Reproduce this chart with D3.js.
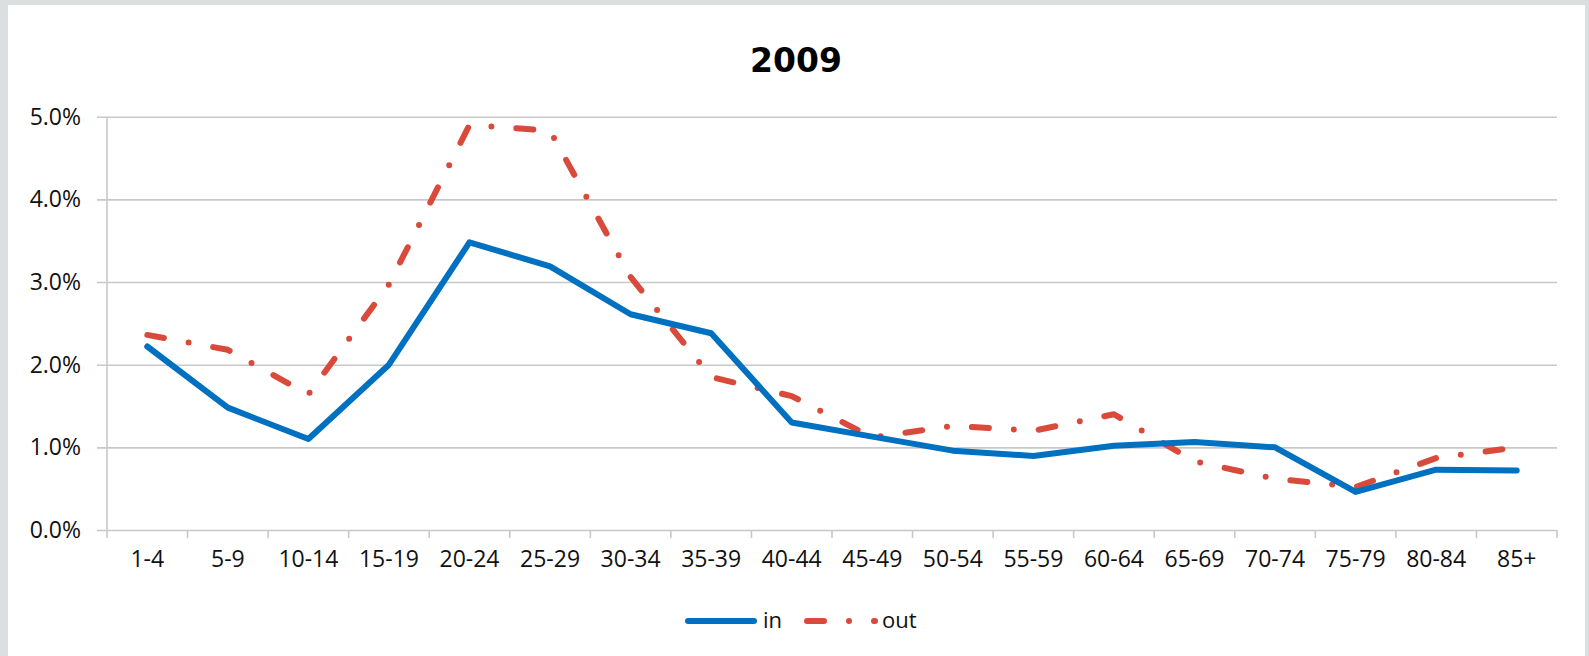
<!DOCTYPE html>
<head>
<meta charset="utf-8">
<style>
body { margin: 0; background: #dcdfe0; }
svg { display: block; }
.tick text { font: 23px "Open Sans", sans-serif; fill: #111; }
.grid line, .grid path, .xbase line { stroke: #c8c8c8; stroke-width: 1.6px; }
.title { font: bold 33px "DejaVu Sans", sans-serif; fill: #000; }
.legend text { font: 22px "Open Sans", sans-serif; fill: #111; }
.line { fill: none; stroke-width: 6px; stroke-linejoin: round; stroke-linecap: round; }
</style>
</head>
<body>
<svg width="1589" height="656"></svg>
<script src="https://cdn.jsdelivr.net/npm/d3@7"></script>
<script>

var ageGroups = ["1-4", "5-9", "10-14", "15-19", "20-24", "25-29", "30-34", "35-39", "40-44",
                 "45-49", "50-54", "55-59", "60-64", "65-69", "70-74", "75-79", "80-84", "85+"];
// share in %
var inValues  = [2.22, 1.48, 1.10, 2.00, 3.48, 3.19, 2.61, 2.38, 1.30,
                 1.13, 0.96, 0.895, 1.02, 1.065, 1.00, 0.46, 0.73, 0.72];
var outValues = [2.36, 2.18, 1.64, 2.97, 4.90, 4.83, 3.06, 1.85, 1.62,
                 1.12, 1.26, 1.20, 1.40, 0.83, 0.62, 0.52, 0.87, 1.00];
var yTicks = [0, 1, 2, 3, 4, 5];
var seriesNames = ["in", "out"];

var blue = "#0070c0", red = "#d94a3a";
var outDash = "17 25 0 25";

var svg = d3.select("svg");

// white panel inside the grey frame
svg.append("rect").attr("x", 8).attr("y", 5).attr("width", 1577).attr("height", 651).attr("fill", "#fff");

var x = d3.scaleBand().domain(ageGroups).range([107, 1557]);
var y = d3.scaleLinear().domain([0, 5]).range([530, 116.7]);

svg.append("text").attr("class", "title")
    .attr("x", 796).attr("y", 72).attr("text-anchor", "middle").text("2009");

// horizontal grid + y labels
svg.append("g").attr("class", "grid")
    .attr("transform", "translate(1557,0)")
    .call(d3.axisLeft(y).tickValues(yTicks).tickSize(1460).tickPadding(16)
      .tickFormat(function(d) { return d.toFixed(1) + "%"; }))
    .call(function(g) { g.select(".domain").remove(); });

// vertical axis line
svg.append("g").attr("class", "xbase")
  .append("line").attr("x1", 107).attr("x2", 107).attr("y1", y(5)).attr("y2", 538);

// category boundary ticks
var bounds = ageGroups.map(function(d) { return x(d); }).concat([x.range()[1]]);
svg.select(".xbase").selectAll("line.b")
    .data(bounds.slice(1))
  .enter().append("line").attr("class", "b")
    .attr("x1", function(d) { return d; }).attr("x2", function(d) { return d; })
    .attr("y1", 530).attr("y2", 538);

// category labels
svg.append("g")
    .attr("transform", "translate(0,530)")
    .call(d3.axisBottom(x).tickSize(0).tickPadding(24))
    .call(function(g) { g.select(".domain").remove(); })
    .selectAll("text").attr("dy", "0.55em");

var line = d3.line()
    .x(function(d, i) { return x(ageGroups[i]) + x.bandwidth() / 2; })
    .y(function(d) { return y(d); });

svg.append("path").datum(outValues).attr("class", "line")
    .attr("stroke", red).attr("stroke-dasharray", outDash).attr("d", line);
svg.append("path").datum(inValues).attr("class", "line")
    .attr("stroke", blue).attr("d", line);

// legend
var legend = svg.append("g").attr("class", "legend");
legend.append("line").attr("class", "line").attr("stroke", blue)
    .attr("x1", 688).attr("x2", 754).attr("y1", 621).attr("y2", 621);
legend.append("text").attr("x", 763).attr("y", 628).text(seriesNames[0]);
legend.append("line").attr("class", "line").attr("stroke", red).attr("stroke-dasharray", outDash)
    .attr("x1", 807).attr("x2", 875).attr("y1", 621).attr("y2", 621);
legend.append("text").attr("x", 882).attr("y", 628).text(seriesNames[1]);

</script>
</body>
